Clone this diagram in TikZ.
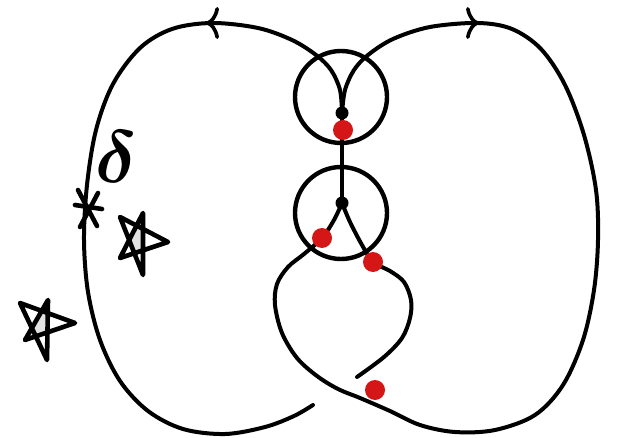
\documentclass[tikz,border=0pt]{standalone}
\usetikzlibrary{arrows.meta}
\definecolor{dotred}{RGB}{212,22,22}
\begin{document}
\begin{tikzpicture}[x=1pt,y=-1pt, line cap=round, line join=round,
  strand/.style={line width=4pt},
  ring/.style={circle, draw, line width=4.4pt, minimum size=92pt, inner sep=0pt},
  vtx/.style={circle, fill=black, minimum size=13pt, inner sep=0pt},
  reddot/.style={circle, fill=dotred, minimum size=20pt, inner sep=0pt},
  tipmark/.style={-{Computer Modern Rightarrow[length=13pt,width=32pt,line width=3.6pt]}},
  starline/.style={line width=4.6pt},
  starfill/.style={fill=gray!22},
]
\useasboundingbox (0,0) rectangle (620,438);
% positions
\coordinate (pT) at (342,113);
\coordinate (pB) at (342,203);
\coordinate (leftend) at (313,405);
\coordinate (lowend) at (357,377);
% left strand
\draw[strand] plot[smooth, tension=0.55] coordinates {(pT) (340,90) (331,70) (316,55) (292,40) (258,28) (212,23) (172,29) (140,48) (113,84) (96,130) (87,185) (84,240) (88,292) (100,340) (120,381) (148,411) (183,429) (225,434) (265,427) (294,416) (leftend)};
% right strand
\draw[strand] plot[smooth, tension=0.55] coordinates {(pT) (345,90) (354,70) (368,55) (393,39) (430,27) (478,23) (512,29) (541,49) (565,85) (584,135) (596,190) (598,240) (594,290) (583,340) (563,385) (535,415) (495,430) (455,432) (420,425) (390,411) (360,398) (338,389) (317,376) (297,358) (282,333) (275,305) (277,284) (288,267) (304,254) (322,238) (334,220) (pB)};
% lower right strand
\draw[strand] plot[smooth, tension=0.55] coordinates {(pB) (350,222) (362,245) (373,262) (390,271) (404,282) (411,300) (410,318) (402,338) (384,357) (lowend)};
% vertical edge
\draw[strand] (pT) -- (pB);
% arrow heads
\coordinate (tipL) at (206,23);
\coordinate (tipR) at (479,23);
\draw[strand, tipmark] (216,23) -- (tipL);
\draw[strand, tipmark] (469,23) -- (tipR);
% circles
\node[ring] (c1) at (341,97) {};
\node[ring] (c2) at (341,213) {};
% vertices
\node[vtx] (T) at (pT) {};
\node[vtx] (B) at (pB) {};
% red dots
\node[reddot] (r1) at (343,130) {};
\node[reddot] (r2) at (322,238) {};
\node[reddot] (r3) at (373,262) {};
\node[reddot] (r4) at (375,390) {};
% delta
\node[scale=7.4, inner sep=0pt, font=\boldmath] (delta) at (116,157) {$\delta$};
% asterisk
\draw[starline] (78,190) -- (97,226);
\draw[starline] (98,193) -- (80,227);
\draw[starline] (75,205) -- (102,209);
% star 1
\fill[starfill] (120,217) -- (168,242) -- (120,258) -- (143,213) -- (143,275) -- cycle;
\fill[white, even odd rule] (120,217) -- (168,242) -- (120,258) -- (143,213) -- (143,275) -- cycle;
\draw[starline] (120,217) -- (168,242) -- (120,258) -- (143,213) -- (143,275) -- cycle;
% star 2
\fill[starfill] (20,303) -- (75,323) -- (25,340) -- (48,300) -- (47,360) -- cycle;
\fill[white, even odd rule] (20,303) -- (75,323) -- (25,340) -- (48,300) -- (47,360) -- cycle;
\draw[starline] (20,303) -- (75,323) -- (25,340) -- (48,300) -- (47,360) -- cycle;
\end{tikzpicture}
\end{document}
